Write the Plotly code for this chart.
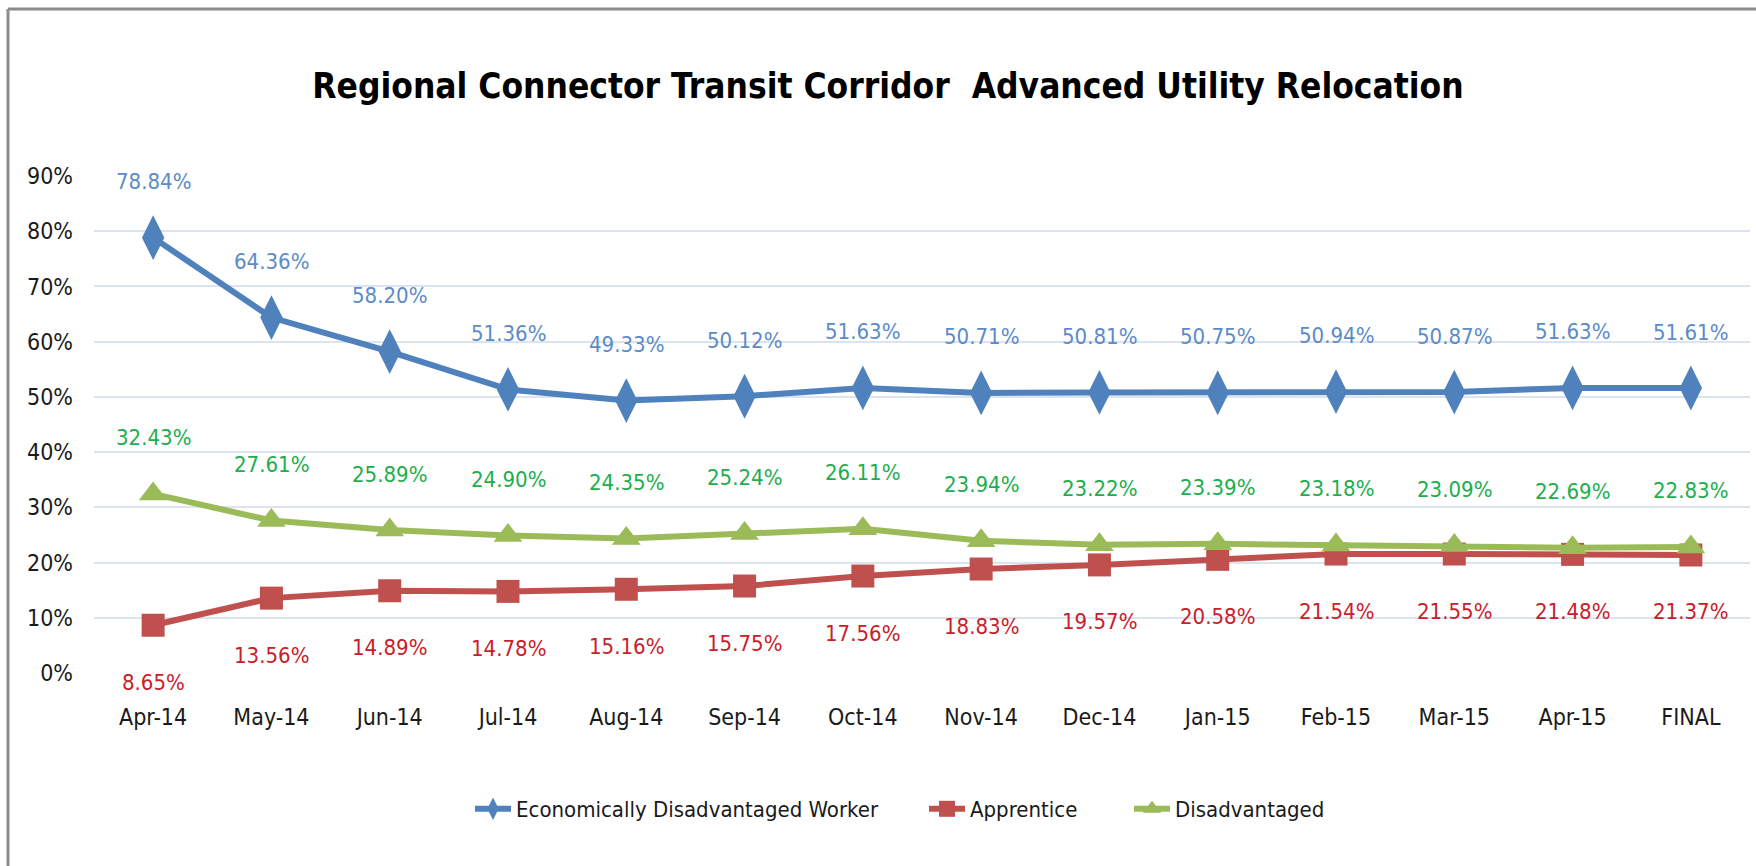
import plotly.graph_objects as go

# chart data
months = ['Apr-14', 'May-14', 'Jun-14', 'Jul-14', 'Aug-14', 'Sep-14', 'Oct-14',
          'Nov-14', 'Dec-14', 'Jan-15', 'Feb-15', 'Mar-15', 'Apr-15', 'FINAL']
econ_disadv_worker = [78.84, 64.36, 58.20, 51.36, 49.33, 50.12, 51.63,
                      50.71, 50.81, 50.75, 50.94, 50.87, 51.63, 51.61]
apprentice = [8.65, 13.56, 14.89, 14.78, 15.16, 15.75, 17.56,
              18.83, 19.57, 20.58, 21.54, 21.55, 21.48, 21.37]
disadvantaged = [32.43, 27.61, 25.89, 24.90, 24.35, 25.24, 26.11,
                 23.94, 23.22, 23.39, 23.18, 23.09, 22.69, 22.83]

FONT = "Liberation Sans Narrow, DejaVu Sans Condensed, Arial Narrow, sans-serif"
W, H = 1756, 866
M = dict(l=94, r=6, t=176, b=193)

pw = W - M['l'] - M['r']
ph = H - M['t'] - M['b']
def px_x(p):
    return (p - M['l']) / pw
def px_y(p):
    return (H - M['b'] - p) / ph

fig = go.Figure()

series = [
    # name, values, line colour, marker, size, label colour, label offset, legend, legend x (px)
    ('Economically Disadvantaged Worker', econ_disadv_worker, '#4F81BD', 'diamond-tall', 32, '#5B8BC8', 56, 'legend', 470),
    ('Apprentice', apprentice, '#C0504D', 'square', 23, '#C8202A', -57, 'legend2', 924),
    ('Disadvantaged', disadvantaged, '#9BBB59', 'triangle-up', 25, '#1DAE4E', 56, 'legend3', 1129),
]

legends = {}
for name, vals, color, symbol, size, label_color, shift, leg, leg_x in series:
    fig.add_trace(go.Scatter(
        x=months, y=vals, name=name, mode='lines+markers',
        line=dict(color=color, width=6),
        marker=dict(symbol=symbol, size=size, color=color),
        legend=leg,
    ))
    legends[leg] = dict(
        x=px_x(leg_x), xanchor='left', y=px_y(809), yanchor='middle',
        font=dict(family=FONT, size=22, color='#1a1a1a'),
        bgcolor='rgba(0,0,0,0)', itemwidth=36,
    )
    # data labels above / below each point
    for m, v in zip(months, vals):
        fig.add_annotation(
            x=m, y=v, text=f"{v:.2f}%", showarrow=False,
            yshift=shift, font=dict(family=FONT, size=22, color=label_color),
        )

# outer chart frame (only top and left edges show in the source)
fig.add_shape(type='line', xref='paper', yref='paper',
              x0=px_x(8), x1=px_x(W + 5), y0=px_y(9), y1=px_y(9),
              line=dict(color='#8C8C8C', width=3))
fig.add_shape(type='line', xref='paper', yref='paper',
              x0=px_x(8), x1=px_x(8), y0=px_y(9), y1=px_y(H + 5),
              line=dict(color='#8C8C8C', width=3))

fig.update_layout(
    width=W, height=H,
    margin=M,
    paper_bgcolor='white',
    plot_bgcolor='white',
    font=dict(family=FONT, size=23, color='#1a1a1a'),
    title=dict(
        text='<b>Regional Connector Transit Corridor  Advanced Utility Relocation</b>',
        x=888 / W, xanchor='center', y=1 - 86 / H, yanchor='middle',
        font=dict(family=FONT, size=35, color='black'),
    ),
    showlegend=True,
    xaxis=dict(
        range=[-0.5, 13.5],
        showgrid=False, zeroline=False, showline=False,
        ticks='', ticklabelstandoff=28,
    ),
    yaxis=dict(
        range=[0, 90], dtick=10, ticksuffix='%',
        showgrid=True, gridcolor='#DCE4EF', gridwidth=2,
        zeroline=False, showline=False, ticks='',
        ticklabelstandoff=20,
    ),
    **legends,
)

fig.write_html("out.html", config={'displayModeBar': False},
               post_script="document.body.style.margin='0';")
